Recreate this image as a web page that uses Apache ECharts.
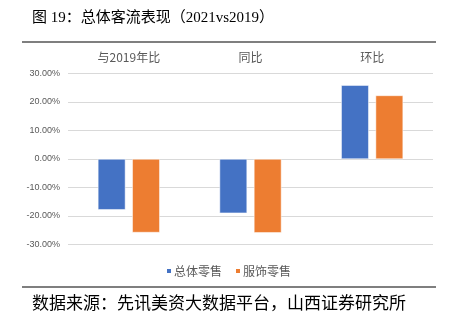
<!DOCTYPE html>
<html>
<head>
<meta charset="utf-8">
<script src="https://cdn.jsdelivr.net/npm/echarts@6/dist/echarts.min.js"></script>
<style>
  html, body { margin: 0; padding: 0; background: #fff; }
  #chart { width: 456px; height: 325px; }
</style>
</head>
<body>
<div id="chart"></div>
<script>
// Comparison groups and passenger-flow change (%) per retail segment
const categories = ['与2019年比', '同比', '环比'];
const totalRetail = [-17.8, -19.0, 25.9];
const apparelRetail = [-25.8, -25.9, 22.3];
const seriesNames = ['总体零售', '服饰零售'];

const chart = echarts.init(document.getElementById('chart'), null, { renderer: 'canvas' });

const labelColor = '#595959';

chart.setOption({
  animation: false,
  backgroundColor: '#ffffff',
  title: {
    text: '图 19：总体客流表现（2021vs2019）',
    left: 27,
    top: 6,
    textStyle: {
      fontFamily: '"Liberation Serif", "Noto Sans CJK SC", serif',
      fontSize: 15,
      fontWeight: 'normal',
      color: '#000'
    }
  },
  graphic: [
    { type: 'line', shape: { x1: 22, y1: 42, x2: 436, y2: 42 }, style: { stroke: '#7f7f7f', lineWidth: 2 } },
    { type: 'line', shape: { x1: 22, y1: 287, x2: 436, y2: 287 }, style: { stroke: '#7f7f7f', lineWidth: 2 } },
    {
      type: 'text', left: 32, top: 294,
      style: {
        text: '数据来源：先讯美资大数据平台，山西证券研究所',
        font: '17px "Noto Sans CJK SC", sans-serif',
        fill: '#000'
      }
    }
  ],
  legend: {
    data: seriesNames,
    top: 260,
    left: 'center',
    icon: 'rect',
    itemWidth: 6,
    itemHeight: 6,
    itemGap: 12,
    textStyle: { fontSize: 12, color: labelColor, fontFamily: '"Noto Sans CJK SC", sans-serif', padding: [0, 0, 0, -3] }
  },
  grid: { left: 68, right: 23, top: 73.5, bottom: 80.5 },
  xAxis: {
    type: 'category',
    position: 'top',
    data: categories,
    axisLine: { show: false },
    axisTick: { show: false },
    axisLabel: {
      color: labelColor,
      fontSize: 12,
      margin: 10,
      fontFamily: '"Noto Sans CJK SC", sans-serif'
    }
  },
  yAxis: {
    type: 'value',
    min: -30,
    max: 30,
    interval: 10,
    axisLine: { show: false },
    axisTick: { show: false },
    splitLine: { lineStyle: { color: '#d9d9d9', width: 1 } },
    axisLabel: {
      color: labelColor,
      fontSize: 9,
      margin: 8,
      fontFamily: '"Liberation Sans", sans-serif',
      formatter: v => v.toFixed(2) + '%'
    }
  },
  series: [
    {
      name: seriesNames[0],
      type: 'bar',
      data: totalRetail,
      barWidth: '22.6%',
      barGap: '25%',
      itemStyle: { color: '#4472C4', borderColor: '#ffffff', borderWidth: 0.5 }
    },
    {
      name: seriesNames[1],
      type: 'bar',
      data: apparelRetail,
      barWidth: '22.6%',
      itemStyle: { color: '#ED7D31', borderColor: '#ffffff', borderWidth: 0.5 }
    }
  ]
});
</script>
</body>
</html>
